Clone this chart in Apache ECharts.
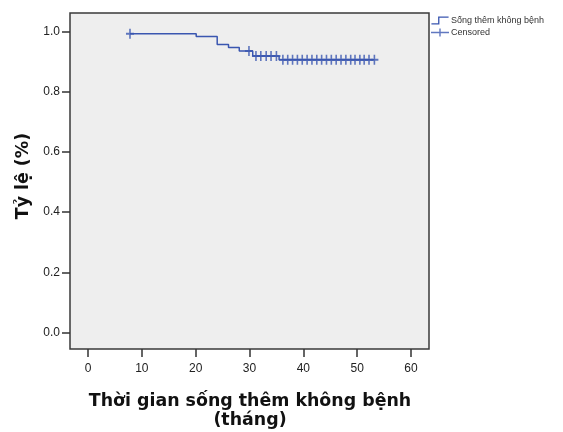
<!DOCTYPE html>
<html>
<head>
<meta charset="utf-8">
<script src="https://cdn.jsdelivr.net/npm/echarts@6/dist/echarts.min.js"></script>
<style>
html,body{margin:0;padding:0;background:#fff;}
#c{width:563px;height:432px;}
</style>
</head>
<body>
<div id="c"></div>
<script>
// Kaplan-Meier step points (time in months, survival proportion)
const kmTimes = [7.8, 20.1, 24.0, 26.1, 28.1, 30.6, 35.5, 53.2];
const kmSurv  = [0.992, 0.983, 0.956, 0.946, 0.935, 0.918, 0.906, 0.906];
// Censored observation times
const censorTimes = [7.8, 29.9, 31.2, 32.1, 33.1, 34.0, 35.0, 36.2, 37.1, 38.0, 38.9, 39.8,
  40.7, 41.6, 42.5, 43.4, 44.3, 45.2, 46.1, 47.0, 47.9, 48.8, 49.6, 50.5, 51.3, 52.2, 53.2];
const xTicks = [0, 10, 20, 30, 40, 50, 60];
const yTicks = [0, 0.2, 0.4, 0.6, 0.8, 1.0];
const seriesName = 'Sống thêm không bệnh';
const censorName = 'Censored';
const xTitle1 = 'Thời gian sống thêm không bệnh';
const xTitle2 = '(tháng)';
const yTitle = 'Tỷ lệ (%)';

function survAt(t) {
  let s = kmSurv[0];
  for (let i = 0; i < kmTimes.length; i++) { if (kmTimes[i] <= t) s = kmSurv[i]; }
  return s;
}
const curveData = kmTimes.map((t, i) => [t, kmSurv[i]]);
const censorData = censorTimes.map(t => [t, survAt(t)]);

const blue = '#3a56b0';
const font = 'Liberation Sans, Arial, sans-serif';
const titleFont = 'DejaVu Sans, sans-serif';
const plusPath = 'path://M4,0H6V10H4ZM0,4H10V6H0Z';

const chart = echarts.init(document.getElementById('c'), null, {renderer: 'canvas'});
chart.setOption({
  animation: false,
  backgroundColor: '#ffffff',
  grid: {left: 70, top: 13, width: 359, height: 336, show: true,
    backgroundColor: '#eeeeee', borderColor: '#3a3a3a', borderWidth: 1.5},
  legend: {
    orient: 'vertical', left: 431, top: 16, padding: 0, itemGap: 3,
    itemWidth: 18, itemHeight: 8,
    textStyle: {fontFamily: font, fontSize: 9, color: '#333', padding: [0,0,0,-3]},
    data: [
      {name: seriesName, icon: 'path://M0,7H7V0H18V1.4H8.4V8.4H0Z'},
      {name: censorName, icon: 'path://M0,3.3H18V4.7H0ZM8.3,0H9.7V8H8.3Z'}
    ]
  },
  xAxis: {
    type: 'value', min: -3.344, max: 63.344,
    splitLine: {show: false},
    axisLine: {show: false, onZero: false},
    axisTick: {show: true, customValues: xTicks, length: 8, inside: false,
      lineStyle: {color: '#333', width: 1.5}},
    axisLabel: {customValues: xTicks, margin: 14, fontFamily: font, fontSize: 12, color: '#222'}
  },
  yAxis: {
    type: 'value', min: -0.054, max: 1.0607,
    splitLine: {show: false},
    axisLine: {show: false, onZero: false},
    axisTick: {show: true, customValues: yTicks, length: 8,
      lineStyle: {color: '#333', width: 1.5}},
    axisLabel: {customValues: yTicks, margin: 10, fontFamily: font, fontSize: 12, color: '#222',
      formatter: v => v.toFixed(1)}
  },
  series: [
    {name: seriesName, type: 'line', step: 'end', data: curveData, showSymbol: false,
      symbol: 'none', color: blue, lineStyle: {color: blue, width: 1.5}},
    {name: censorName, type: 'scatter', data: censorData, symbol: plusPath,
      symbolSize: [8, 10], color: blue, itemStyle: {color: blue}}
  ],
  graphic: [
    {type: 'text', x: 250, y: 401, style: {text: xTitle1, fontFamily: titleFont, fontWeight: 'bold',
      fontSize: 17.4, fill: '#111', align: 'center', verticalAlign: 'middle'}},
    {type: 'text', x: 250, y: 420, style: {text: xTitle2, fontFamily: titleFont, fontWeight: 'bold',
      fontSize: 17.4, fill: '#111', align: 'center', verticalAlign: 'middle'}},
    {type: 'text', x: 23, y: 176, rotation: Math.PI / 2, style: {text: yTitle, fontFamily: titleFont,
      fontWeight: 'bold', fontSize: 17.4, fill: '#111', align: 'center', verticalAlign: 'middle'}}
  ]
});
</script>
</body>
</html>
